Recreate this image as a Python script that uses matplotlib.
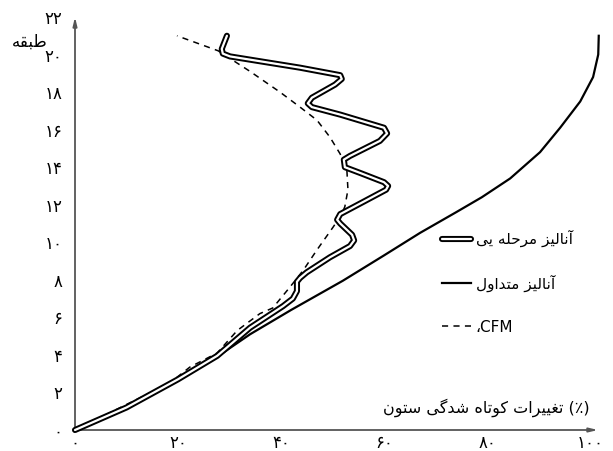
import matplotlib
matplotlib.use("Agg")
import matplotlib.pyplot as plt
import matplotlib.patheffects as pe

plt.rcParams['font.family'] = ['DejaVu Sans']

# ---- data ----
staged_x = [0, 10, 20, 27.6, 34.0, 40.4, 42.3, 43.1, 43.1, 43.7, 45.0, 49.5, 53.4, 54.2, 53.8,
            51.5, 50.9, 51.5, 56.3, 60.4, 60.8, 60.0, 55.3, 52.4, 52.2, 53.4, 59.2, 60.6, 60.0,
            51.5, 46.0, 45.2, 46.0, 50.5, 51.8, 51.5, 43.7, 30.1, 28.7, 28.5, 29.5]
staged_y = [0, 1.2, 2.7, 3.95, 5.45, 6.6, 7.0, 7.4, 7.9, 8.1, 8.4, 9.2, 9.8, 10.1, 10.4,
            11.0, 11.2, 11.5, 12.2, 12.8, 13.0, 13.2, 13.7, 14.0, 14.4, 14.6, 15.4, 15.8, 16.1,
            16.8, 17.2, 17.4, 17.7, 18.4, 18.7, 18.9, 19.3, 19.9, 20.05, 20.3, 21.0]

conv_x = [0, 10, 20, 27.6, 34, 42, 52, 60, 67, 74, 79, 84.5, 90.3, 94.2, 98.1, 100.6, 101.6, 101.7]
conv_y = [0, 1.15, 2.65, 3.9, 5.1, 6.4, 7.95, 9.3, 10.5, 11.6, 12.4, 13.4, 14.8, 16.1, 17.5, 18.8, 20.0, 21.0]

cfm_x = [0, 18.4, 22.3, 27.6, 31.5, 35.9, 38.4, 41.7, 44.3, 47.0, 50.1, 51.8, 52.4, 53.0, 52.8,
         52.4, 51.5, 49.5, 47.0, 43.7, 39.8, 34.0, 27.8, 19.8]
cfm_y = [0, 2.5, 3.35, 4.1, 5.3, 6.2, 6.5, 7.6, 8.5, 9.6, 10.8, 11.5, 11.9, 12.8, 13.8,
         14.0, 14.7, 15.6, 16.5, 17.2, 18.0, 19.1, 20.2, 21.0]

x_ticks = [0, 20, 40, 60, 80, 100]
x_tick_labels = ["۰", "۲۰", "۴۰", "۶۰", "۸۰", "۱۰۰"]
y_ticks = [0, 2, 4, 6, 8, 10, 12, 14, 16, 18, 20, 22]
y_tick_labels = ["۰", "۲", "۴", "۶", "۸", "۱۰", "۱۲", "۱۴", "۱۶", "۱۸", "۲۰", "۲۲"]

# Persian labels (presentation forms, visual order)
lab_staged = "\uFEF0\uFEF3 \uFEEA\uFEE0\uFEA3\uFEAE\uFEE3 \uFEB0\uFEF4\uFEDF\uFE8E\uFEE7\uFE81"   # آنالیز مرحله یی
lab_conv = "\uFEDD\uFEED\uFE8D\uFEAA\uFE98\uFEE3 \uFEB0\uFEF4\uFEDF\uFE8E\uFEE7\uFE81"            # آنالیز متداول
lab_cfm = "\u060cCFM"
ylabel = "\uFEEA\uFED8\uFE92\uFEC3"   # طبقه
xlabel = ("\uFEE5\uFEEE\uFE98\uFEB3 \uFEF0\uFB94\uFEAA\uFEB7 \uFEE9\uFE8E\uFE97\uFEEE\uFEDB "
          "\uFE95\uFE8D\uFEAE\uFEF4\uFEF4\uFED0\uFE97 (\u066A)")   # (٪) تغییرات کوتاه شدگی ستون

W, H = 613, 451
fig = plt.figure(figsize=(W / 100, H / 100), dpi=100)
L, R, B, T = 75, 598, 21, 17
ax = fig.add_axes([L / W, B / H, (R - L) / W, (H - B - T) / H])
ax.set_xlim(0, (R - L) / 5.15)
ax.set_ylim(0, (H - B - T) / 18.8)

for s in ax.spines.values():
    s.set_visible(False)

axis_col = '#555555'
ax.annotate('', xy=(1, 0), xytext=(0, 0), xycoords='axes fraction',
            arrowprops=dict(arrowstyle='-|>,head_length=0.5,head_width=0.12', color=axis_col, lw=1.3,
                            shrinkA=0, shrinkB=0), annotation_clip=False)
ax.annotate('', xy=(0, 1), xytext=(0, 0), xycoords='axes fraction',
            arrowprops=dict(arrowstyle='-|>,head_length=0.5,head_width=0.12', color=axis_col, lw=1.3,
                            shrinkA=0, shrinkB=0), annotation_clip=False)

ax.plot(staged_x, staged_y, color='white', lw=1.6, solid_joinstyle='round', solid_capstyle='round',
        path_effects=[pe.Stroke(linewidth=4.4, foreground='black', capstyle='round', joinstyle='round'),
                      pe.Normal()],
        label=lab_staged, clip_on=False, zorder=3)
ax.plot(conv_x, conv_y, color='black', lw=1.6, label=lab_conv, clip_on=False, zorder=2)
ax.plot(cfm_x, cfm_y, color='black', lw=1.1, dashes=(4, 3.5), label=lab_cfm, clip_on=False, zorder=2)

ax.set_xticks(x_ticks)
ax.set_xticklabels(x_tick_labels)
ax.set_yticks(y_ticks)
ax.set_yticklabels(y_tick_labels)
ax.tick_params(length=0, labelsize=12)
ax.tick_params(axis='x', pad=3)
ax.tick_params(axis='y', pad=9)

fig.text(30 / W, 1 - 42 / H, ylabel, fontsize=12, ha='center', va='center')
fig.text(590 / W, 1 - 408 / H, xlabel, fontsize=11.5, ha='right', va='center')

leg = ax.legend(loc='upper left', bbox_to_anchor=(442 / W, 1 - 230 / H), bbox_transform=fig.transFigure,
                frameon=False, fontsize=11, handlelength=1.9, handletextpad=0.3, labelspacing=1.8,
                borderpad=0, borderaxespad=0)

fig.savefig('out.png', dpi=100)
